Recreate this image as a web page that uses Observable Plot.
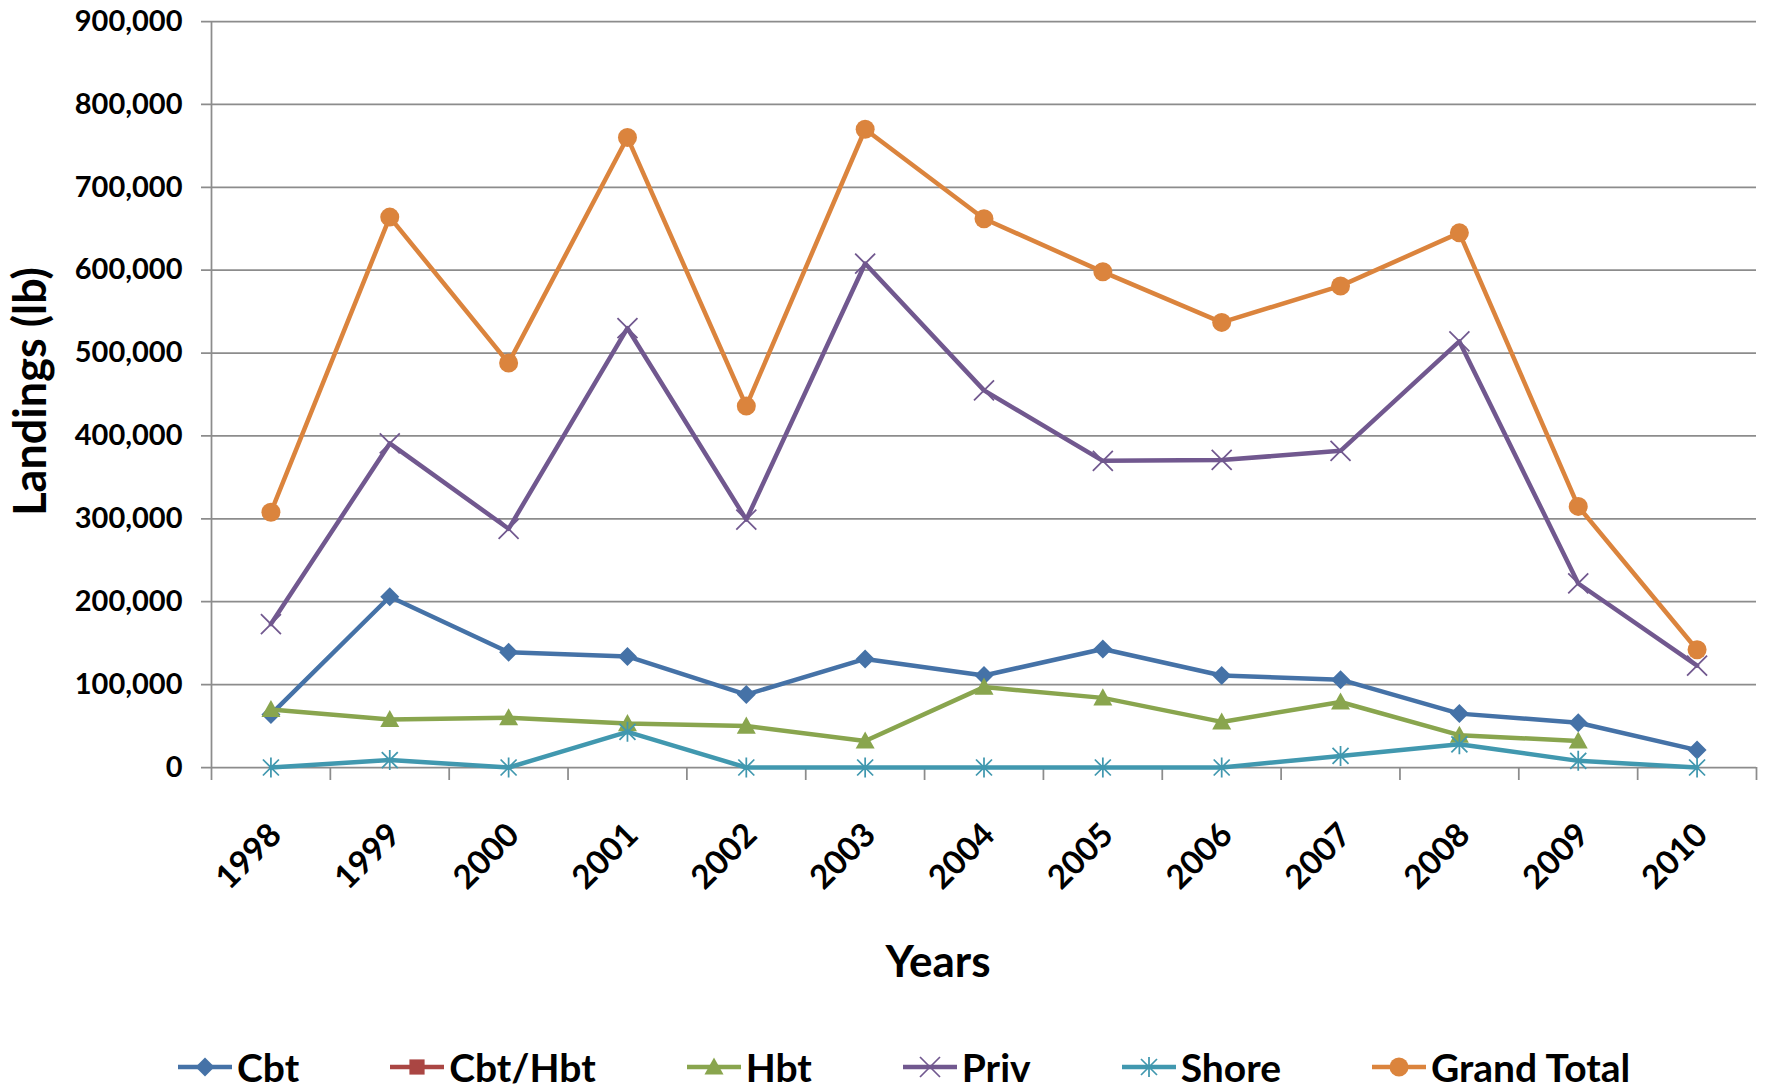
<!DOCTYPE html>
<html>
<head>
<meta charset="utf-8">
<script src="https://cdn.jsdelivr.net/npm/d3@7"></script>
<script src="https://cdn.jsdelivr.net/npm/@observablehq/plot@0.6"></script>
<style>
  html, body { margin: 0; padding: 0; background: #ffffff; }
  #wrap { position: relative; width: 1768px; height: 1089px; overflow: hidden; }
  #chart svg { display: block; }
  .legend {
    position: absolute; left: 178px; top: 1045px; height: 44px;
    display: flex; align-items: center; gap: 91px;
    font-family: Lato, "Open Sans", sans-serif; font-weight: 700; font-size: 39px; color: #000;
  }
  .legend .item { display: flex; align-items: center; gap: 5px; }
  .legend svg { display: block; }
</style>
</head>
<body>
<div id="wrap">
  <div id="chart"></div>
  <div class="legend" id="legend"></div>
</div>
<script>
// ---- data ----
const years = [1998, 1999, 2000, 2001, 2002, 2003, 2004, 2005, 2006, 2007, 2008, 2009, 2010];
const cbt        = [64000, 206000, 139000, 134000, 88000, 131000, 111000, 143000, 111000, 106000, 65000, 54000, 21000];
const cbtHbt     = [null, null, null, null, null, null, null, null, null, null, null, null, null];
const hbt        = [70000, 58000, 60000, 53000, 50000, 32000, 97000, 84000, 55000, 79000, 39000, 32000, null];
const priv       = [173000, 391000, 288000, 530000, 299000, 608000, 455000, 370000, 371000, 382000, 514000, 222000, 123000];
const shore      = [0, 9000, 0, 43000, 0, 0, 0, 0, 0, 14000, 28000, 8000, 0];
const grandTotal = [308000, 664000, 488000, 760000, 436000, 770000, 662000, 598000, 537000, 581000, 645000, 315000, 142000];
const yTicks = [0, 100000, 200000, 300000, 400000, 500000, 600000, 700000, 800000, 900000];
const seriesNames = ["Cbt", "Cbt/Hbt", "Hbt", "Priv", "Shore", "Grand Total"];
const yTitle = "Landings (lb)";
const xTitle = "Years";

// ---- styles ----
const seriesValues = [cbt, cbtHbt, hbt, priv, shore, grandTotal];
const seriesColors = ["#4572A7", "#AA4643", "#89A54E", "#71588F", "#4198AF", "#DB843D"];
const gridColor = "#8c8c8c";
const FONT = "Lato, 'Open Sans', sans-serif";

const diamondSym = {draw(ctx, size) { const r = Math.sqrt(size / Math.PI); ctx.moveTo(0, -r); ctx.lineTo(r, 0); ctx.lineTo(0, r); ctx.lineTo(-r, 0); ctx.closePath(); }};
const squareSym = {draw(ctx, size) { const r = Math.sqrt(size / Math.PI) * 0.8; ctx.moveTo(-r, -r); ctx.lineTo(r, -r); ctx.lineTo(r, r); ctx.lineTo(-r, r); ctx.closePath(); }};
const triangleSym = {draw(ctx, size) { const r = Math.sqrt(size / Math.PI); ctx.moveTo(0, -r); ctx.lineTo(r, r * 0.8); ctx.lineTo(-r, r * 0.8); ctx.closePath(); }};
const timesSym = {draw(ctx, size) { const r = Math.sqrt(size / Math.PI); ctx.moveTo(-r, -r); ctx.lineTo(r, r); ctx.moveTo(-r, r); ctx.lineTo(r, -r); }};
const starSym = {draw(ctx, size) { const r = Math.sqrt(size / Math.PI); const d = r * 0.8; ctx.moveTo(0, -r); ctx.lineTo(0, r); ctx.moveTo(-d, -d); ctx.lineTo(d, d); ctx.moveTo(-d, d); ctx.lineTo(d, -d); }};
const circleSym = {draw(ctx, size) { const r = Math.sqrt(size / Math.PI); ctx.moveTo(r, 0); ctx.arc(0, 0, r, 0, 2 * Math.PI); }};

const markerStyles = [
  {symbol: diamondSym, r: 9.5, filled: true},
  {symbol: squareSym, r: 9.5, filled: true},
  {symbol: triangleSym, r: 9.5, filled: true},
  {symbol: timesSym, r: 10, filled: false},
  {symbol: starSym, r: 10, filled: false},
  {symbol: circleSym, r: 9.5, filled: true}
];

const rows = [];
seriesNames.forEach((name, s) => {
  years.forEach((yr, i) => rows.push({series: name, year: yr, value: seriesValues[s][i]}));
});

const bounds = d3.range(years.length + 1).map(i => years[0] - 0.5 + i);

const marks = [
  // horizontal gridlines (extend 10px left as tick marks)
  Plot.ruleY(yTicks, {stroke: gridColor, strokeWidth: 1.75, insetLeft: -10}),
  // vertical axis line
  Plot.ruleX([bounds[0]], {stroke: gridColor, strokeWidth: 1.75}),
  // category boundary ticks below the x axis
  Plot.axisX(bounds, {tickSize: 13, tickFormat: () => "", stroke: gridColor, strokeWidth: 1.75, label: null}),
  // y tick labels
  Plot.axisY(yTicks, {tickSize: 0, tickPadding: 29, tickFormat: d3.format(","), fontSize: 29, fontWeight: "bold", fontFamily: FONT, fill: "#000", label: null}),
  // x tick labels (rotated)
  Plot.text(years, {x: d => d, text: d => String(d), frameAnchor: "bottom", rotate: -45, textAnchor: "end", lineAnchor: "middle", dx: 5, dy: 62, fontSize: 33, fontWeight: "bold", fontFamily: FONT, fill: "#000"}),
  // axis titles
  Plot.text([yTitle], {text: d => d, frameAnchor: "left", rotate: -90, textAnchor: "middle", lineAnchor: "middle", dx: -180, dy: -3, fontSize: 45, fontWeight: "bold", fontFamily: FONT, fill: "#000"}),
  Plot.text([xTitle], {text: d => d, frameAnchor: "bottom", textAnchor: "middle", lineAnchor: "middle", dx: -46, dy: 195, fontSize: 44, fontWeight: "bold", fontFamily: FONT, fill: "#000"})
];

seriesNames.forEach((name, s) => {
  const data = rows.filter(d => d.series === name);
  const color = seriesColors[s];
  const m = markerStyles[s];
  marks.push(Plot.line(data, {x: "year", y: "value", stroke: color, strokeWidth: 4.5, strokeLinejoin: "round"}));
  const pts = data.filter(d => d.value != null);
  marks.push(Plot.dot(pts, m.filled
    ? {x: "year", y: "value", symbol: m.symbol, r: m.r, fill: color, stroke: "none"}
    : {x: "year", y: "value", symbol: m.symbol, r: m.r, fill: "none", stroke: color, strokeWidth: 1.75}));
});

const chart = Plot.plot({
  width: 1768,
  height: 1010,
  marginLeft: 211,
  marginRight: 12,
  marginTop: 21,
  marginBottom: 243,
  style: {fontFamily: FONT, background: "#fff", color: "#000"},
  x: {type: "linear", domain: [bounds[0], bounds[bounds.length - 1]], label: null},
  y: {domain: [yTicks[0], yTicks[yTicks.length - 1]], label: null},
  marks
});
document.getElementById("chart").appendChild(chart);

// ---- legend ----
const legend = d3.select("#legend");
seriesNames.forEach((name, s) => {
  const item = legend.append("div").attr("class", "item");
  const svg = item.append("svg").attr("width", 54).attr("height", 26);
  svg.append("line").attr("x1", 0).attr("x2", 54).attr("y1", 13).attr("y2", 13)
    .attr("stroke", seriesColors[s]).attr("stroke-width", 4.5);
  const m = markerStyles[s];
  const path = d3.path();
  m.symbol.draw(path, Math.PI * m.r * m.r);
  const p = svg.append("path").attr("d", path.toString()).attr("transform", "translate(27,13)");
  if (m.filled) p.attr("fill", seriesColors[s]);
  else p.attr("fill", "none").attr("stroke", seriesColors[s]).attr("stroke-width", 1.75);
  item.append("span").text(name);
});
</script>
</body>
</html>
